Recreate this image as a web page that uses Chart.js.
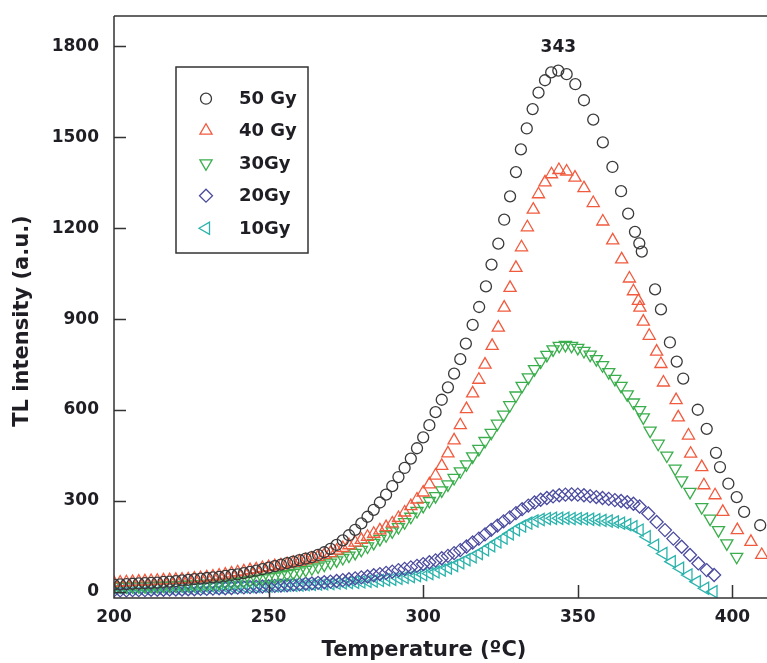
<!DOCTYPE html>
<html>
<head>
<meta charset="utf-8">
<style>
  html, body { margin: 0; padding: 0; background: #ffffff; }
  #wrap { width: 767px; height: 663px; }
</style>
<script src="https://cdn.jsdelivr.net/npm/chart.js@4.4.1/dist/chart.umd.min.js"></script>
</head>
<body>
<div id="wrap"><canvas id="tlChart" width="767" height="663"></canvas></div>
<script>
// TL glow curves (temperature in ºC, intensity in a.u.)
const temps50 = [200, 202, 204, 206, 208, 210, 212, 214, 216, 218, 220, 222, 224, 226, 228, 230, 232, 234, 236, 238,
    240, 242, 244, 246, 248, 250, 252, 254, 256, 258, 260, 262, 264, 266, 268, 270, 272, 274, 276, 278,
    280, 282, 284, 286, 288, 290, 292, 294, 296, 298, 300, 302, 304, 306, 308, 310, 312,
    313.8, 316, 318.1, 320.3, 322.1, 324.3, 326.2, 328.1, 330, 331.6, 333.5, 335.4, 337.3, 339.4, 341.4, 343.7,
    346.4, 349.2, 352, 355, 358.1, 361.2, 364, 366.3, 368.5, 369.9, 370.7, 375, 376.9, 379.8, 382, 384.1,
    388.8, 391.7, 394.7, 396, 398.7, 401.4, 403.8, 409];
const tl50 = [24, 25, 26, 27, 28, 29, 30, 31, 33, 34, 36, 38, 40, 42, 44, 46, 48, 50, 53, 56,
    58, 62, 66, 70, 75, 80, 85, 90, 95, 100, 105, 110, 115, 122, 131, 142, 155, 170, 187, 205,
    226, 248, 271, 295, 321, 349, 379, 409, 440, 474, 510, 550, 593, 634, 675, 720, 768,
    819, 881, 940, 1008, 1080, 1149, 1228, 1305, 1385, 1460, 1529, 1593, 1647, 1688, 1714, 1720,
    1708, 1675, 1622, 1558, 1483, 1402, 1322, 1248, 1188, 1150, 1123, 998, 932, 823, 760, 704,
    601, 538, 459, 412, 357, 313, 264, 220];

const temps40 = [200, 202, 204, 206, 208, 210, 212, 214, 216, 218, 220, 222, 224, 226, 228, 230, 232, 234, 236, 238,
    240, 242, 244, 246, 248, 250, 252, 254, 256, 258, 260, 262, 264, 266, 268, 270, 272, 274, 276, 278,
    280, 282, 284, 286, 288, 290, 292, 294, 296, 298, 300, 302, 304, 306, 308, 310, 312, 314, 316, 318, 320,
    322.3, 324.3, 326.2, 328.1, 330, 331.8, 333.7, 335.6, 337.3, 339.4, 341.5, 343.9, 346.4, 349.1, 352, 355,
    358.1, 361.3, 364.2, 366.7, 368, 369.6, 370.1, 371.2, 373.1, 375.5, 376.9, 377.7, 381.8, 382.5, 385.8,
    386.5, 390.1, 390.8, 394.4, 396.9, 401.6, 406, 409.5];
const tl40 = [30, 31, 32, 33, 34, 35, 36, 37, 38, 39, 40, 41, 42, 44, 46, 48, 51, 54, 57, 61,
    65, 68, 72, 75, 79, 82, 85, 88, 92, 96, 100, 105, 110, 116, 122, 128, 136, 145, 154, 163,
    172, 182, 192, 203, 214, 226, 244, 262, 283, 305, 328, 355, 384, 416, 457, 500, 550, 603, 655, 700, 750,
    812, 872, 938, 1003, 1069, 1137, 1203, 1261, 1312, 1351, 1378, 1392, 1387, 1367, 1332, 1283,
    1222, 1160, 1097, 1034, 992, 960, 938, 892, 845, 793, 752, 691, 633, 576, 516,
    456, 412, 352, 319, 264, 204, 165, 122];

const temps30 = [200, 202, 204, 206, 208, 210, 212, 214, 216, 218, 220, 222, 224, 226, 228,
    230, 232, 234, 236, 238, 240, 242, 244, 246, 248, 250, 252, 254, 256, 258,
    260, 262, 264, 266, 268, 270, 272, 274, 276, 278, 280, 282, 284, 286, 288,
    290, 292, 294, 296, 298, 300, 302, 304, 306, 308, 310, 312, 314, 316, 318,
    320, 322, 324, 326, 328, 330, 332, 334, 336, 338, 340, 342, 344, 346, 348,
    350, 352, 354, 356, 358,
    360, 362, 364, 366, 368, 370, 371.2, 373.4, 376, 378.8, 381.5, 383.6, 386.3, 390.1, 392.8, 395.5, 398.2, 401.4];
const tl30 = [18, 18, 18, 19, 19, 19, 20, 20, 21, 21, 22, 23, 24, 25, 26,
    27, 28, 30, 31, 32, 34, 36, 39, 42, 45, 48, 51, 55, 59, 63,
    68, 73, 78, 84, 90, 97, 104, 112, 120, 129, 139, 150, 162, 175, 187,
    200, 214, 230, 248, 267, 284, 300, 316, 335, 355, 376, 398, 421, 447, 472,
    498, 525, 555, 585, 616, 648, 680, 708, 735, 760, 782, 800, 812, 815, 812,
    805, 795, 783, 768, 748,
    725, 703, 680, 652, 625, 600, 576, 532, 489, 450, 407, 368, 330, 280, 242, 204, 160, 116];

const temps20 = [200, 202, 204, 206, 208, 210, 212, 214, 216, 218, 220, 222, 224, 226, 228, 230, 232, 234, 236, 238,
    240, 242, 244, 246, 248, 250, 252, 254, 256, 258, 260, 262, 264, 266, 268, 270, 272, 274, 276, 278,
    280, 282, 284, 286, 288, 290, 292, 294, 296, 298, 300, 302, 304, 306, 308, 310, 312, 314, 316, 318,
    320, 322, 324, 326, 328, 330, 332, 334, 336, 338, 340, 342, 344, 346, 348, 350, 352, 354, 356, 358,
    360, 362, 364, 366, 368, 370, 372.8, 375.5, 378.2, 380.9, 383.6, 386.3, 389, 391.7, 394.1];
const tl20 = [5, 5, 5, 6, 6, 6, 7, 7, 7, 8, 8, 8, 9, 9, 10, 10, 11, 12, 12, 13,
    14, 15, 16, 17, 18, 19, 20, 21, 22, 24, 25, 27, 28, 30, 32, 34, 36, 39, 42, 45,
    48, 51, 55, 59, 63, 67, 72, 76, 81, 86, 92, 98, 104, 111, 119, 128, 138, 150, 163, 176,
    190, 205, 219, 233, 246, 260, 273, 285, 295, 304, 310, 315, 319, 321, 322, 321, 319, 316, 313, 310,
    307, 303, 300, 296, 291, 282, 259, 231, 204, 176, 149, 122, 94, 72, 56];

const temps10 = [200, 202, 204, 206, 208, 210, 212, 214, 216, 218, 220, 222, 224, 226, 228, 230, 232, 234, 236, 238,
    240, 242, 244, 246, 248, 250, 252, 254, 256, 258, 260, 262, 264, 266, 268, 270, 272, 274, 276, 278,
    280, 282, 284, 286, 288, 290, 292, 294, 296, 298, 300, 302, 304, 306, 308, 310, 312, 314, 316, 318,
    320, 322, 324, 326, 328, 330, 332, 334, 336, 338, 340, 342, 344, 346, 348, 350, 352, 354, 356, 358,
    360, 362, 364, 366, 368, 370, 372.3, 375, 377.7, 380.4, 383.1, 385.8, 388.5, 391.2, 393.9];
const tl10 = [12, 12, 12, 12, 12, 12, 13, 13, 13, 13, 13, 14, 14, 14, 14, 15, 15, 15, 16, 16,
    17, 17, 18, 18, 19, 19, 20, 21, 22, 22, 23, 24, 25, 26, 27, 28, 29, 30, 31, 32,
    33, 35, 36, 38, 40, 42, 45, 48, 51, 54, 57, 61, 66, 72, 79, 87, 96, 106, 116, 127,
    139, 152, 165, 178, 192, 205, 217, 227, 234, 239, 242, 243, 243, 243, 242, 242, 241, 240, 238, 236,
    234, 231, 227, 222, 215, 204, 182, 154, 127, 100, 78, 56, 34, 12, 1];

const seriesLabels = ['50 Gy', '40 Gy', '30Gy', '20Gy', '10Gy'];
const xTicks = [200, 250, 300, 350, 400];
const yTicks = [0, 300, 600, 900, 1200, 1500, 1800];
const peakTemp = 343.7;
const peakValue = 1720;
const peakText = '343';

function toPoints(xs, ys) {
    return xs.map((x, i) => ({ x: x, y: ys[i] }));
}

const tickFont = { family: 'DejaVu Sans', weight: 'bold', size: 17 };
const inkColor = '#1e1e24';

function makeSet(label, xs, ys, color, style, radius, rotation) {
    return {
        label: label,
        data: toPoints(xs, ys),
        showLine: false,
        clip: 0,
        pointStyle: style,
        pointRadius: radius,
        pointHoverRadius: radius,
        pointRotation: rotation,
        pointBorderWidth: 1.3,
        pointBorderColor: color,
        pointBackgroundColor: 'rgba(0,0,0,0)',
        borderColor: color,
        backgroundColor: 'rgba(0,0,0,0)',
    };
}

const datasets = [
    makeSet(seriesLabels[0], temps50, tl50, '#3a3a3a', 'circle', 5.5, 0),
    makeSet(seriesLabels[1], temps40, tl40, '#f25a3e', 'triangle', 7, 0),
    makeSet(seriesLabels[2], temps30, tl30, '#3aae4c', 'triangle', 7, 180),
    makeSet(seriesLabels[3], temps20, tl20, '#4b4ba0', 'rectRot', 6.5, 0),
    makeSet(seriesLabels[4], temps10, tl10, '#2bb3ac', 'triangle', 7, 270),
];

// frame, inward ticks, boxed legend and the text labels
const framePlugin = {
    id: 'framePlugin',
    afterDraw(chart) {
        const ctx = chart.ctx;
        const area = chart.chartArea;
        const xs = chart.scales.x;
        const ys = chart.scales.y;

        ctx.save();
        ctx.strokeStyle = '#333333';
        ctx.lineWidth = 1.5;
        ctx.beginPath();
        ctx.moveTo(area.left, area.top);
        ctx.lineTo(area.left, area.bottom);
        ctx.lineTo(area.right, area.bottom);
        ctx.moveTo(area.left, area.top);
        ctx.lineTo(area.right, area.top);
        ctx.stroke();

        ctx.beginPath();
        yTicks.forEach((v) => {
            const py = Math.round(ys.getPixelForValue(v)) + 0.5;
            ctx.moveTo(area.left, py);
            ctx.lineTo(area.left + 12, py);
        });
        xTicks.forEach((v) => {
            if (v === xs.min) return;
            const px = Math.round(xs.getPixelForValue(v)) + 0.5;
            ctx.moveTo(px, area.bottom);
            ctx.lineTo(px, area.bottom - 13);
        });
        ctx.stroke();

        // legend box
        ctx.lineWidth = 1.5;
        ctx.strokeRect(176, 67, 132, 186);
        const rowY = [98.7, 130.7, 163.3, 195.7, 228.3];
        chart.data.datasets.forEach((ds, i) => {
            ctx.strokeStyle = ds.pointBorderColor;
            ctx.fillStyle = 'rgba(0,0,0,0)';
            ctx.lineWidth = ds.pointBorderWidth;
            Chart.helpers.drawPoint(ctx, {
                pointStyle: ds.pointStyle,
                rotation: ds.pointRotation,
                radius: ds.pointRadius,
                borderWidth: ds.pointBorderWidth,
            }, 206, rowY[i]);
            ctx.fillStyle = inkColor;
            ctx.font = 'bold 18px "DejaVu Sans"';
            ctx.textAlign = 'left';
            ctx.textBaseline = 'middle';
            ctx.fillText(ds.label, 239, rowY[i] + 1);
        });

        // peak annotation
        ctx.fillStyle = inkColor;
        ctx.font = 'bold 17px "DejaVu Sans"';
        ctx.textAlign = 'center';
        ctx.textBaseline = 'middle';
        ctx.fillText(peakText, xs.getPixelForValue(peakTemp), ys.getPixelForValue(peakValue) - 23);

        // axis titles
        ctx.font = 'bold 21px "DejaVu Sans"';
        ctx.fillText('Temperature (ºC)', 424, 651);
        ctx.translate(23, 321);
        ctx.rotate(-Math.PI / 2);
        ctx.fillText('TL intensity (a.u.)', 0, 0);
        ctx.restore();
    },
};

const chart = new Chart(document.getElementById('tlChart'), {
    type: 'scatter',
    data: { datasets: datasets },
    plugins: [framePlugin],
    options: {
        responsive: false,
        devicePixelRatio: 1,
        animation: false,
        events: [],
        layout: {
            autoPadding: false,
            padding: { top: 16, right: 0, bottom: 0, left: 0 },
        },
        plugins: {
            legend: { display: false },
            tooltip: { enabled: false },
        },
        scales: {
            x: {
                type: 'linear',
                min: 200,
                max: 411.2,
                grid: { display: false, drawTicks: false },
                border: { display: false },
                afterBuildTicks(scale) {
                    scale.ticks = xTicks.map((v) => ({ value: v }));
                },
                afterFit(scale) {
                    scale.height = 65;
                    scale.paddingLeft = 0;
                    scale.paddingRight = 0;
                },
                ticks: {
                    autoSkip: false,
                    maxRotation: 0,
                    padding: 9,
                    color: inkColor,
                    font: tickFont,
                    callback(value) {
                        return String(value);
                    },
                },
            },
            y: {
                type: 'linear',
                min: -20,
                max: 1900,
                grid: { display: false, drawTicks: false },
                border: { display: false },
                afterBuildTicks(scale) {
                    scale.ticks = yTicks.map((v) => ({ value: v }));
                },
                afterFit(scale) {
                    scale.width = 114;
                    scale.paddingTop = 0;
                    scale.paddingBottom = 0;
                },
                ticks: {
                    autoSkip: false,
                    padding: 15,
                    color: inkColor,
                    font: tickFont,
                    callback(value) {
                        return String(value);
                    },
                },
            },
        },
    },
});
</script>
</body>
</html>
